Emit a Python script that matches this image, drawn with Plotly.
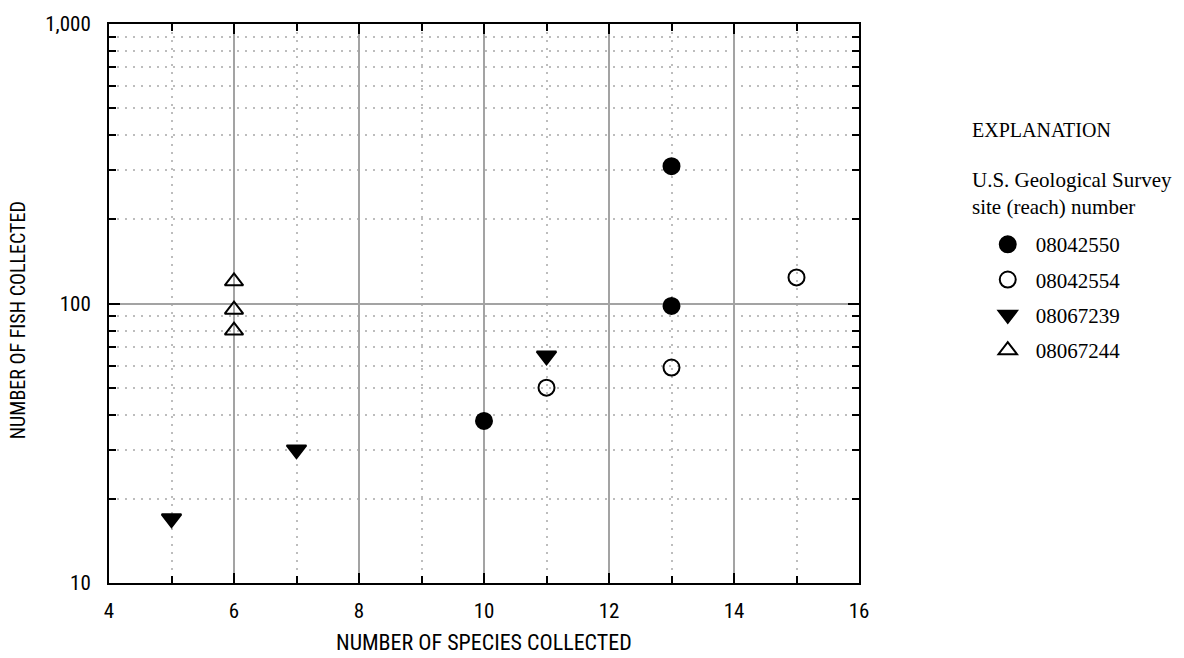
import plotly.graph_objects as go

# ---- data ----
site_ids = ["08042550", "08042554", "08067239", "08067244"]
species_08042550 = [10, 13, 13]
fish_08042550 = [38, 98, 310]
species_08042554 = [11, 13, 15]
fish_08042554 = [50, 59, 124]
species_08067239 = [5, 7, 11]
fish_08067239 = [17, 30, 65]
species_08067244 = [6, 6, 6]
fish_08067244 = [120, 95, 80]

x_ticks = [4, 6, 8, 10, 12, 14, 16]

TICK_FONT = "Liberation Sans Narrow, Arial Narrow, Roboto Condensed, DejaVu Sans Condensed, sans-serif"
SERIF = "Liberation Serif, Times New Roman, serif"

fig = go.Figure()

series = [
    (species_08042550, fish_08042550, "circle", 16, "black"),
    (species_08042554, fish_08042554, "circle-open", 16, "black"),
    (species_08067239, fish_08067239, "triangle-down", 17, "black"),
    (species_08067244, fish_08067244, "triangle-up-open", 16, "black"),
]
for i, (xs, ys, sym, sz, col) in enumerate(series):
    fig.add_trace(go.Scatter(
        x=xs, y=ys, mode="markers", name=site_ids[i],
        legendgroup=f"g{i}",
        marker=dict(symbol=sym, size=sz, color=col,
                    line=dict(color="black", width=2)),
        cliponaxis=False,
    ))

grid_major = "#a3a3a3"
grid_minor = "#bdbdbd"
dots = "2px,6px"

fig.update_xaxes(
    range=[4, 16], tickvals=x_ticks, ticktext=[str(v) for v in x_ticks],
    showline=True, linecolor="black", linewidth=2, mirror="ticks",
    ticks="inside", ticklen=10, tickwidth=2, tickcolor="black",
    showgrid=True, gridcolor=grid_major, gridwidth=1.5,
    zeroline=False,
    tickfont=dict(family=TICK_FONT, size=21, color="black"),
    ticklabelstandoff=8,
    minor=dict(dtick=1, ticks="inside", ticklen=7, tickwidth=1.5, tickcolor="black",
               showgrid=True, gridcolor=grid_minor, griddash=dots, gridwidth=1.5),
)
fig.update_yaxes(
    type="log", range=[1, 3], dtick=1, tickformat=",",
    showline=True, linecolor="black", linewidth=2, mirror="ticks",
    ticks="inside", ticklen=11, tickwidth=2, tickcolor="black",
    showgrid=True, gridcolor=grid_major, gridwidth=1.5,
    zeroline=False,
    tickfont=dict(family=TICK_FONT, size=21, color="black"),
    ticklabelstandoff=12,
    minor=dict(dtick="D1", ticks="inside", ticklen=7, tickwidth=1.5, tickcolor="black",
               showgrid=True, gridcolor=grid_minor, griddash=dots, gridwidth=1.5),
)

fig.add_annotation(text="NUMBER OF SPECIES COLLECTED", xref="paper", yref="paper",
                   x=0.5, y=-0.1073, xanchor="center", yanchor="middle", showarrow=False,
                   font=dict(family=TICK_FONT, size=22, color="black"))
fig.add_annotation(text="NUMBER OF FISH COLLECTED", xref="paper", yref="paper",
                   x=-0.1213, y=0.47, xanchor="center", yanchor="middle", showarrow=False,
                   textangle=-90,
                   font=dict(family=TICK_FONT, size=20, color="black"))
fig.add_annotation(text="EXPLANATION", xref="paper", yref="paper",
                   x=1.148, y=0.81, xanchor="left", yanchor="middle", showarrow=False,
                   font=dict(family=SERIF, size=20, color="black"))
fig.add_annotation(text="U.S. Geological Survey<br>site (reach) number", xref="paper", yref="paper",
                   x=1.148, y=0.697, xanchor="left", yanchor="middle", showarrow=False,
                   align="left",
                   font=dict(family=SERIF, size=21, color="black"))

fig.update_layout(
    width=1184, height=658,
    margin=dict(l=109, r=325, t=15, b=75),
    plot_bgcolor="white", paper_bgcolor="white",
    showlegend=True,
    legend=dict(x=1.161, y=0.642, xanchor="left", yanchor="top",
                font=dict(family=SERIF, size=21, color="black"),
                itemwidth=46, tracegroupgap=5, bgcolor="rgba(0,0,0,0)"),
)

fig.write_html("out.html")
